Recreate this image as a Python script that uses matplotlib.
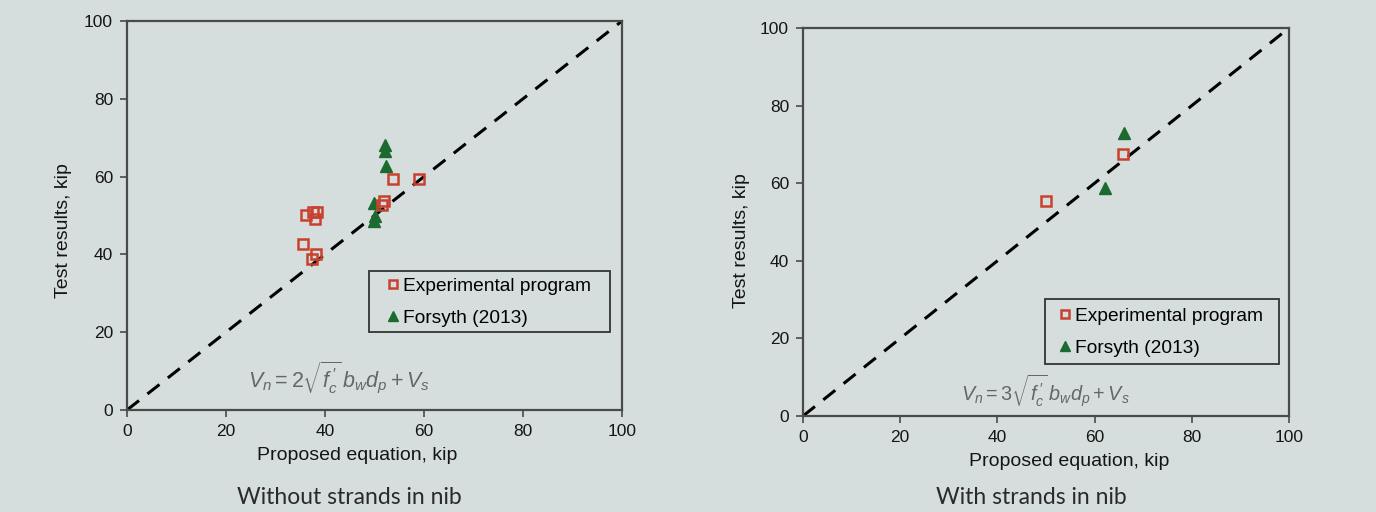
import matplotlib
matplotlib.use("Agg")
import matplotlib.pyplot as plt
from matplotlib.patches import Rectangle

# ---- data ----
left_exp_x = [53.8, 59.0, 52.0, 51.5, 36.2, 37.6, 38.4, 37.9, 35.6, 38.2, 37.4]
left_exp_y = [59.3, 59.4, 53.7, 52.6, 50.2, 51.0, 51.0, 49.2, 42.7, 40.0, 38.7]
left_for_x = [52.2, 52.2, 52.3, 49.8, 50.0, 49.8]
left_for_y = [68.0, 66.6, 62.8, 53.3, 49.8, 48.6]

right_exp_x = [65.8, 50.1]
right_exp_y = [67.4, 55.5]
right_for_x = [66.0, 62.2]
right_for_y = [72.9, 58.8]

ticks = [0, 20, 40, 60, 80, 100]
labels = ["Experimental program", "Forsyth (2013)"]
captions = ["Without strands in nib", "With strands in nib"]
formulas = [r"$V_n = 2\sqrt{f^{\,\prime}_c}\,b_w d_p + V_s$",
            r"$V_n = 3\sqrt{f^{\,\prime}_c}\,b_w d_p + V_s$"]

plt.rcParams['font.family'] = ['Liberation Sans', 'DejaVu Sans']
plt.rcParams['mathtext.fontset'] = 'custom'
plt.rcParams['mathtext.rm'] = 'Liberation Sans'
plt.rcParams['mathtext.it'] = 'Liberation Sans:italic'

bg = '#d5dedc'
red = '#c8412e'
green = '#1b6b30'
spine_c = '#4a4a4a'
txt_c = '#151515'

W, H = 1376, 512
fig = plt.figure(figsize=(W/100, H/100), dpi=100, facecolor=bg)

# axes pixel boxes: (x0, x1, y_top, y_bottom)
boxes = [(127, 622, 21, 410), (803, 1289, 28, 416)]
data = [
    (left_exp_x, left_exp_y, left_for_x, left_for_y),
    (right_exp_x, right_exp_y, right_for_x, right_for_y),
]
legend_frames = [(369, 610, 271, 332), (1045, 1279, 299, 364)]
legend_anchor_px = [(388, 302), (1060, 332)]
ylabel_px = [(72, 231), (750, 241)]
xlabel_px = [(357, 447), (1069, 453)]
formula_pos = [(24.5, 8.3), (32.5, 6.3)]
formula_size = [15.5, 14.3]
caption_x = [349/W, 1031/W]

for i in range(2):
    x0, x1, yt, yb = boxes[i]
    ax = fig.add_axes([x0/W, 1-yb/H, (x1-x0)/W, (yb-yt)/H])
    ax.set_facecolor(bg)

    def fx_(px):
        return (px - x0) / (x1 - x0)

    def fy_(py):
        return (yb - py) / (yb - yt)

    ex, ey, fxs, fys = data[i]
    ax.plot([0, 100], [0, 100], color='black', ls=(0, (5, 3.5)), lw=2.2, zorder=1)
    ax.plot(ex, ey, ls='none', marker='s', ms=7.5, mfc='none', mec=red, mew=1.8,
            label=labels[0], zorder=3)
    ax.plot(fxs, fys, ls='none', marker='^', ms=9, mfc=green, mec=green,
            label=labels[1], zorder=2)
    ax.set_xlim(0, 100)
    ax.set_ylim(0, 100)
    ax.set_xticks(ticks)
    ax.set_yticks(ticks)
    ax.tick_params(direction='out', length=5, width=1.2, color=spine_c,
                   labelsize=12.5, labelcolor=txt_c, pad=5)
    for s in ax.spines.values():
        s.set_color(spine_c)
        s.set_linewidth(1.6)
    ax.set_xlabel("Proposed equation, kip", fontsize=14, color=txt_c)
    ax.set_ylabel("Test results, kip", fontsize=14, color=txt_c)
    ax.xaxis.set_label_coords(fx_(xlabel_px[i][0]), fy_(xlabel_px[i][1]))
    ax.yaxis.set_label_coords(fx_(ylabel_px[i][0]), fy_(ylabel_px[i][1]))

    lx0, lx1, lyt, lyb = legend_frames[i]
    ax.add_patch(Rectangle((fx_(lx0), fy_(lyb)), fx_(lx1) - fx_(lx0), fy_(lyt) - fy_(lyb),
                           transform=ax.transAxes, facecolor=bg, edgecolor='#333333',
                           lw=1.3, zorder=4))
    leg = ax.legend(loc='center left',
                    bbox_to_anchor=(fx_(legend_anchor_px[i][0]), fy_(legend_anchor_px[i][1])),
                    fontsize=13.8, frameon=False, handlelength=0.5, markerscale=0.8,
                    handletextpad=0.3, borderpad=0, labelspacing=0.75, borderaxespad=0)
    leg.set_zorder(5)
    ax.text(formula_pos[i][0], formula_pos[i][1], formulas[i], fontsize=formula_size[i],
            color='#666666', va='center', ha='left')
    fig.text(caption_x[i], 1-497/H, captions[i], fontsize=16.5,
             family=['Lato', 'DejaVu Sans'], color='#2a2a2a',
             ha='center', va='center')

fig.savefig("out.png", dpi=100, facecolor=bg)
